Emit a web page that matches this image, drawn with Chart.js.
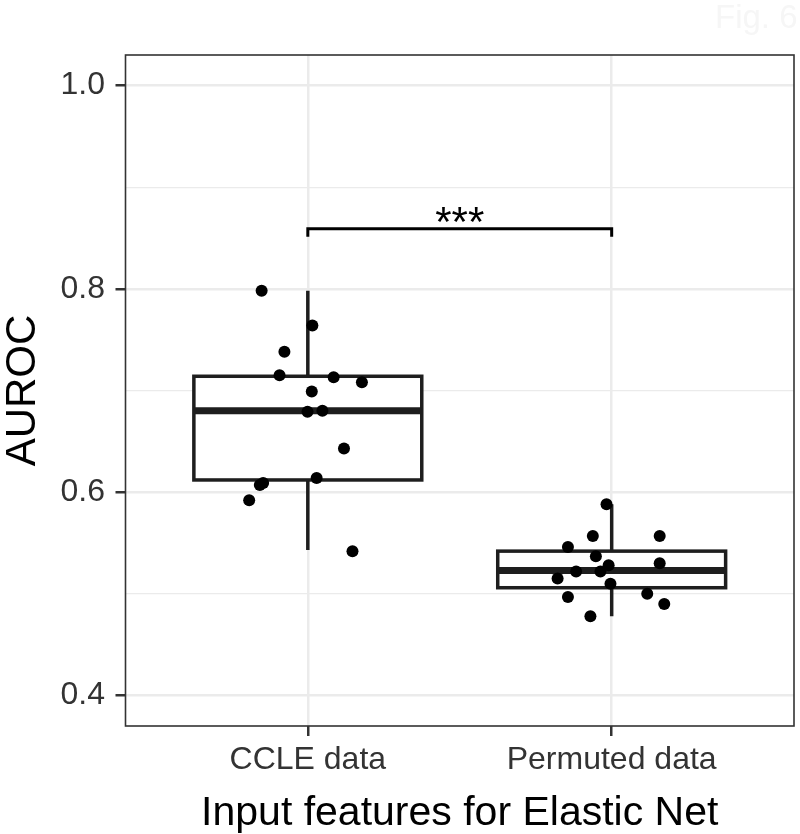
<!DOCTYPE html>
<html>
<head>
<meta charset="utf-8">
<script src="https://cdn.jsdelivr.net/npm/chart.js@4.4.1/dist/chart.umd.min.js"></script>
<style>
  html, body { margin: 0; padding: 0; background: #fff; }
  #wrap { width: 800px; height: 834px; }
</style>
</head>
<body>
<div id="wrap"><canvas id="chart" width="800" height="834"></canvas></div>
<script>
const categories = ['CCLE data', 'Permuted data'];

// AUROC per run + horizontal jitter (in category units)
const ccleValues = [0.798, 0.764, 0.738, 0.715, 0.713, 0.708, 0.699, 0.679, 0.680, 0.643, 0.614, 0.609, 0.607, 0.592, 0.542];
const ccleJitter = [-0.152, 0.015, -0.077, -0.093, 0.085, 0.178, 0.013, -0.001, 0.048, 0.119, 0.029, -0.147, -0.158, -0.193, 0.147];
const permValues = [0.588, 0.557, 0.557, 0.546, 0.537, 0.528, 0.530, 0.522, 0.522, 0.515, 0.510, 0.500, 0.497, 0.490, 0.478];
const permJitter = [-0.017, -0.062, 0.158, -0.144, -0.052, -0.010, 0.158, -0.117, -0.037, -0.178, -0.004, 0.117, -0.144, 0.173, -0.070];

// lower whisker, q1, median, q3, upper whisker
const ccleBox = [0.543, 0.612, 0.680, 0.714, 0.798];
const permBox = [0.478, 0.506, 0.523, 0.542, 0.588];

const yTicks = [0.4, 0.6, 0.8, 1.0];
const yMinorTicks = [0.5, 0.7, 0.9];

const signifLabel = '***';
const signifY = 0.859;

const FONT = "'Liberation Sans', Arial, Helvetica, sans-serif";

const points = [];
ccleValues.forEach((v, i) => points.push({ x: 1 + ccleJitter[i], y: v }));
permValues.forEach((v, i) => points.push({ x: 2 + permJitter[i], y: v }));

const isMajor = v => yTicks.some(t => Math.abs(t - v) < 1e-6);

const boxPlugin = {
  id: 'boxes',
  beforeDatasetsDraw(chart) {
    const { ctx, scales: { x, y } } = chart;
    [ccleBox, permBox].forEach((b, i) => {
      const cx = x.getPixelForValue(i + 1);
      const half = x.getPixelForValue(i + 1 + 0.375) - cx;
      const [lo, q1, med, q3, hi] = b.map(v => y.getPixelForValue(v));
      ctx.save();
      ctx.strokeStyle = '#1e1e1e';
      ctx.lineWidth = 3.5;
      ctx.beginPath();
      ctx.moveTo(cx, lo); ctx.lineTo(cx, q1);
      ctx.moveTo(cx, q3); ctx.lineTo(cx, hi);
      ctx.stroke();
      ctx.fillStyle = '#fff';
      ctx.fillRect(cx - half, q3, half * 2, q1 - q3);
      ctx.strokeRect(cx - half, q3, half * 2, q1 - q3);
      ctx.lineWidth = 7;
      ctx.beginPath();
      ctx.moveTo(cx - half, med); ctx.lineTo(cx + half, med);
      ctx.stroke();
      ctx.restore();
    });
  },
  afterDatasetsDraw(chart) {
    // significance bracket
    const { ctx, scales: { x, y } } = chart;
    const x1 = x.getPixelForValue(1), x2 = x.getPixelForValue(2);
    const by = y.getPixelForValue(signifY);
    ctx.save();
    ctx.strokeStyle = '#000';
    ctx.lineWidth = 3;
    ctx.beginPath();
    ctx.moveTo(x1, by + 8); ctx.lineTo(x1, by); ctx.lineTo(x2, by); ctx.lineTo(x2, by + 8);
    ctx.stroke();
    ctx.fillStyle = '#000';
    ctx.font = '42px ' + FONT;
    ctx.textAlign = 'center';
    ctx.textBaseline = 'alphabetic';
    const m = ctx.measureText(signifLabel);
    // put the glyph centre ~14px above the bracket line
    const base = by - 14 + (m.actualBoundingBoxAscent - m.actualBoundingBoxDescent) / 2;
    ctx.fillText(signifLabel, (x1 + x2) / 2, base);
    ctx.restore();
  },
  afterDraw(chart) {
    const { ctx, chartArea: a } = chart;
    ctx.save();
    ctx.strokeStyle = '#333';
    ctx.lineWidth = 1.6;
    ctx.strokeRect(a.left, a.top, a.right - a.left, a.bottom - a.top);
    ctx.fillStyle = '#f6f6f6';
    ctx.font = '33px ' + FONT;
    ctx.textBaseline = 'top';
    ctx.fillText('Fig. 6', 715, 2);
    ctx.restore();
  }
};

new Chart(document.getElementById('chart'), {
  type: 'scatter',
  data: {
    datasets: [{
      data: points,
      backgroundColor: '#000',
      borderWidth: 0,
      pointRadius: 6,
      pointHoverRadius: 6
    }]
  },
  options: {
    responsive: false,
    animation: false,
    layout: { padding: { top: 55, right: 5, left: 0, bottom: 0 } },
    plugins: { legend: { display: false }, tooltip: { enabled: false } },
    scales: {
      x: {
        type: 'linear',
        min: 0.4,
        max: 2.6,
        afterBuildTicks: s => { s.ticks = categories.map((c, i) => ({ value: i + 1 })); },
        afterFit: s => { s.height = 108; },
        ticks: {
          callback: v => categories[Math.round(v) - 1],
          color: '#333',
          font: { family: FONT, size: 32, lineHeight: 1 },
          padding: 8,
          maxRotation: 0,
          autoSkip: false
        },
        grid: { color: '#ebebeb', lineWidth: 2.5, tickLength: 10, tickColor: '#333', tickWidth: 2.5 },
        border: { display: false },
        title: {
          display: true,
          text: 'Input features for Elastic Net',
          color: '#000',
          font: { family: FONT, size: 41, lineHeight: 1 },
          padding: { top: 0, bottom: 0 }
        }
      },
      y: {
        min: 0.37,
        max: 1.03,
        afterBuildTicks: s => { s.ticks = yTicks.concat(yMinorTicks).map(v => ({ value: v })); },
        afterFit: s => { s.width = 125.5; },
        ticks: {
          callback: v => isMajor(v) ? v.toFixed(1) : '',
          color: '#333',
          font: { family: FONT, size: 32, lineHeight: 1 },
          padding: 10.5,
          autoSkip: false
        },
        grid: {
          color: '#ebebeb',
          lineWidth: c => isMajor(c.tick.value) ? 2.5 : 1.2,
          tickLength: 10,
          tickColor: c => isMajor(c.tick.value) ? '#333' : 'rgba(0,0,0,0)',
          tickWidth: 2.5
        },
        border: { display: false },
        title: {
          display: true,
          text: 'AUROC',
          color: '#000',
          font: { family: FONT, size: 42, lineHeight: 1 },
          padding: { top: 2, bottom: 0 }
        }
      }
    }
  },
  plugins: [boxPlugin]
});
</script>
</body>
</html>
